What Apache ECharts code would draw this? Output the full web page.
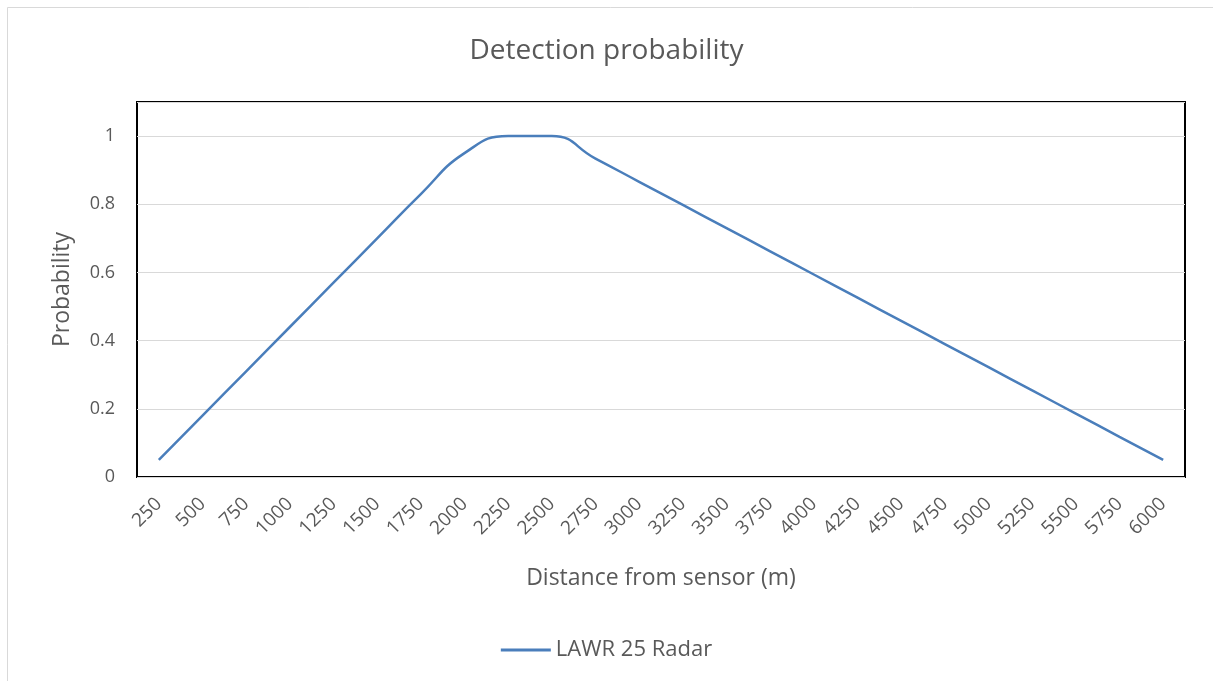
<!DOCTYPE html>
<html>
<head>
<meta charset="utf-8">
<title>Detection probability</title>
<script src="https://cdn.jsdelivr.net/npm/echarts@6/dist/echarts.min.js"></script>
<style>
  html, body { margin: 0; padding: 0; background: #fff; }
  #chart { width: 1213px; height: 681px; }
</style>
</head>
<body>
<div id="chart"></div>
<script>
// distance categories (m)
const distances = ['250', '500', '750', '1000', '1250', '1500', '1750', '2000',
  '2250', '2500', '2750', '3000', '3250', '3500', '3750', '4000', '4250',
  '4500', '4750', '5000', '5250', '5500', '5750', '6000']
// LAWR 25 Radar detection probability
const radarProb = [0.05, 0.18, 0.31, 0.44, 0.57, 0.70, 0.83, 0.95, 1.00, 1.00,
  0.934, 0.866, 0.798, 0.730, 0.662, 0.594, 0.526, 0.458, 0.390, 0.322, 0.254, 0.186, 0.118, 0.05]

const textColor = '#595959'
const font = '"Open Sans", sans-serif'

let chart = echarts.init(document.getElementById('chart'))

let option = {
  backgroundColor: '#fff',
  textStyle: { fontFamily: font },
  graphic: [{
    type: 'rect',
    shape: { x: 7.5, y: 7.5, width: 1210, height: 690 },
    style: { fill: 'none', stroke: '#d9d9d9', lineWidth: 1 },
    silent: true
  }],
  title: {
    text: 'Detection probability',
    left: 'center',
    top: 32,
    textStyle: { color: textColor, fontSize: 28, fontWeight: 'normal', fontFamily: font }
  },
  legend: {
    top: 634,
    left: 'center',
    icon: 'rect',
    itemWidth: 50,
    itemHeight: 3,
    itemGap: 10,
    textStyle: { color: textColor, fontSize: 22, fontFamily: font },
    data: ['LAWR 25 Radar']
  },
  grid: {
    left: 137,
    right: 28,
    top: 102,
    bottom: 204,
    show: true,
    borderColor: '#000',
    borderWidth: 2,
    backgroundColor: 'transparent'
  },
  xAxis: {
    type: 'category',
    data: distances,
    boundaryGap: true,
    name: 'Distance from sensor (m)',
    nameLocation: 'middle',
    nameGap: 90,
    nameTextStyle: { color: textColor, fontSize: 23, fontFamily: font },
    axisLine: { show: false },
    axisTick: { show: false },
    axisLabel: {
      interval: 0,
      rotate: 45,
      margin: 24,
      color: textColor,
      fontSize: 19,
      fontFamily: font
    },
    splitLine: { show: false }
  },
  yAxis: {
    type: 'value',
    min: 0,
    max: 1.1,
    interval: 0.2,
    name: 'Probability',
    nameLocation: 'middle',
    nameGap: 63,
    nameTextStyle: { color: textColor, fontSize: 23, fontFamily: font },
    axisLine: { show: false },
    axisTick: { show: false },
    axisLabel: {
      showMaxLabel: false,
      margin: 22,
      color: textColor,
      fontSize: 18,
      fontFamily: font
    },
    splitLine: { lineStyle: { color: '#d9d9d9', width: 1 } }
  },
  series: [{
    name: 'LAWR 25 Radar',
    type: 'line',
    data: radarProb,
    smooth: 0.5,
    symbol: 'none',
    color: '#4a7ebb',
    lineStyle: { color: '#4a7ebb', width: 2.5 }
  }]
}
chart.setOption(option)
window.addEventListener('resize', function () {
  chart.resize()
})
</script>
</body>
</html>
